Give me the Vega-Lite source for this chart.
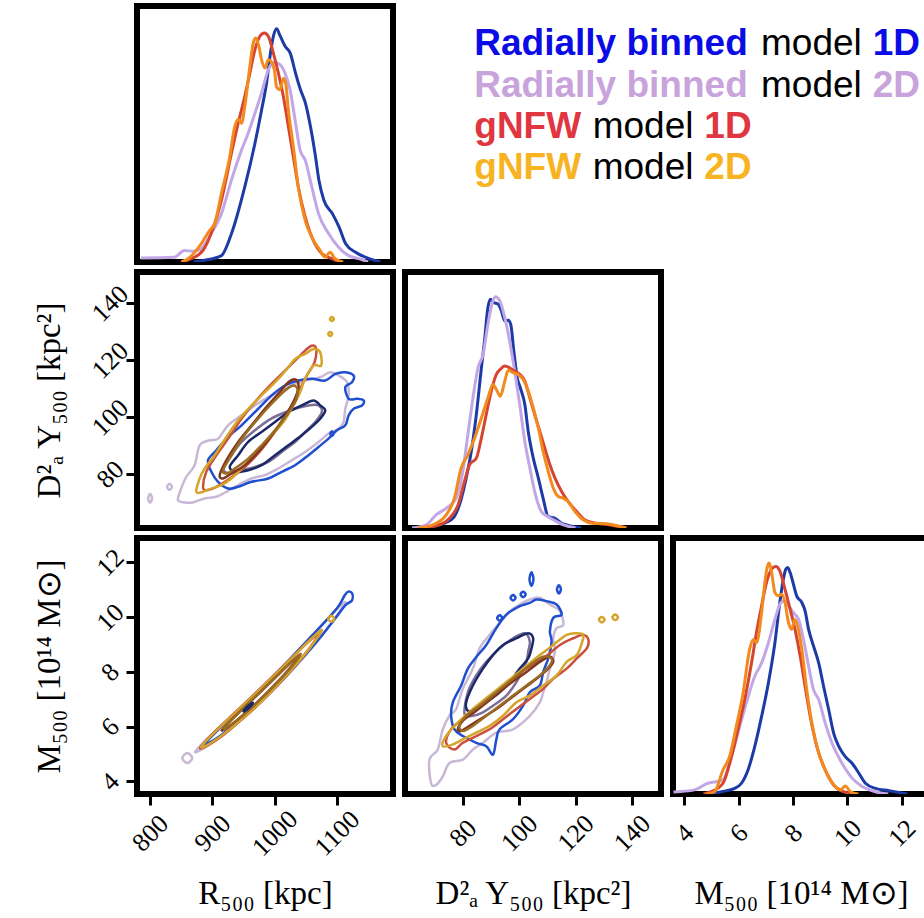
{
"$schema":"https://vega.github.io/schema/vega-lite/v6.json",
"background":"white",
"padding":{"left":29,"top":3,"right":0,"bottom":0},
"columns":3,
"spacing":{"row":10,"column":12},
"bounds":"flush",
"resolve":{"scale":{"color":"independent","x":"independent","y":"independent"}},
"concat":[
{"width":256,"height":256,"data":{"name":"hR"},
 "mark":{"type":"line","strokeWidth":3,"interpolate":"monotone","clip":true},
 "encoding":{
  "x":{"field":"x","type":"quantitative","scale":{"domain":[779,1190],"nice":false,"zero":false},"axis":null},
  "y":{"field":"d","type":"quantitative","scale":{"domain":[0,1],"nice":false},"axis":null},
  "color":{"field":"m","type":"nominal","scale":{"domain":["RB1D","RB2D","G1D","G2D"],"range":["#1c3ba6","#c3a6e6","#d6452f","#f28a1e"]},"legend":null}}},
{"width":256,"height":256,"view":{"stroke":null},"data":{"name":"leg"},
 "encoding":{
  "x":{"field":"px","type":"quantitative","scale":{"domain":[0,256],"nice":false,"zero":false},"axis":null},
  "y":{"field":"py","type":"quantitative","scale":{"domain":[256,0],"nice":false,"zero":false},"axis":null},
  "text":{"field":"t"},
  "color":{"field":"c","type":"nominal","scale":{"domain":["blue","lav","red","orange","black"],"range":["#0b0be6","#c8a3dc","#e0363f","#f8b322","#000000"]},"legend":null}},
 "layer":[
  {"transform":[{"filter":"datum.w=='b'"}],"mark":{"type":"text","align":"left","baseline":"alphabetic","font":"Liberation Sans","fontSize":37,"fontWeight":"bold"}},
  {"transform":[{"filter":"datum.w=='n'"}],"mark":{"type":"text","align":"left","baseline":"alphabetic","font":"Liberation Sans","fontSize":37}}]},
{"width":256,"height":256,"view":{"stroke":null},"data":{"values":[{"t":""}]},"mark":{"type":"text"},"encoding":{"text":{"field":"t"}}},
{"width":256,"height":256,"data":{"name":"cRD"},
 "mark":{"type":"line","strokeWidth":2.5,"interpolate":"cardinal-closed","clip":true},
 "encoding":{
  "x":{"field":"x","type":"quantitative","scale":{"domain":[779,1190],"nice":false,"zero":false},"axis":null},
  "y":{"field":"y","type":"quantitative","scale":{"domain":[61.1,151],"nice":false,"zero":false},"axis":{"values":[80,100,120,140],"format":"d","title":"D²ₐ Y₅₀₀ [kpc²]","titleX":-88,"titleBaseline":"middle","labelPadding":16}},
  "color":{"field":"k","type":"nominal","scale":{"domain":["l1","b1","l2","b2","r1","g1","r2","g2"],"range":["#c8b8d6","#1f4fcf","#7d6e98","#1b2868","#c9503d","#d4a52a","#82361f","#9a6b22"]},"legend":null},
  "detail":{"field":"id"},
  "order":{"field":"i"}}},
{"width":256,"height":256,"data":{"name":"hD"},
 "mark":{"type":"line","strokeWidth":3,"interpolate":"monotone","clip":true},
 "encoding":{
  "x":{"field":"x","type":"quantitative","scale":{"domain":[59.5,150.3],"nice":false,"zero":false},"axis":null},
  "y":{"field":"d","type":"quantitative","scale":{"domain":[0,1],"nice":false},"axis":null},
  "color":{"field":"m","type":"nominal","scale":{"domain":["RB1D","RB2D","G1D","G2D"],"range":["#1c3ba6","#c3a6e6","#d6452f","#f28a1e"]},"legend":null}}},
{"width":256,"height":256,"view":{"stroke":null},"data":{"values":[{"t":""}]},"mark":{"type":"text"},"encoding":{"text":{"field":"t"}}},
{"width":256,"height":256,"data":{"name":"cRM"},
 "mark":{"type":"line","strokeWidth":2.5,"interpolate":"cardinal-closed","clip":true},
 "encoding":{
  "x":{"field":"x","type":"quantitative","scale":{"domain":[779,1190],"nice":false,"zero":false},"axis":{"values":[800,900,1000,1100],"format":"d","title":"R₅₀₀ [kpc]","titleY":99,"titleBaseline":"middle","labelPadding":28}},
  "y":{"field":"y","type":"quantitative","scale":{"domain":[3.54,12.89],"nice":false,"zero":false},"axis":{"values":[4,6,8,10,12],"format":"d","title":"M₅₀₀ [10¹⁴ M⊙]","titleX":-88,"titleBaseline":"middle","labelPadding":16}},
  "color":{"field":"k","type":"nominal","scale":{"domain":["l1","b1","l2","b2","r1","g1","r2","g2"],"range":["#c8b8d6","#1f4fcf","#7d6e98","#1b2868","#c9503d","#d4a52a","#82361f","#9a6b22"]},"legend":null},
  "detail":{"field":"id"},
  "order":{"field":"i"}}},
{"width":256,"height":256,"data":{"name":"cDM"},
 "mark":{"type":"line","strokeWidth":2.5,"interpolate":"cardinal-closed","clip":true},
 "encoding":{
  "x":{"field":"x","type":"quantitative","scale":{"domain":[59.5,150.3],"nice":false,"zero":false},"axis":{"values":[80,100,120,140],"format":"d","title":"D²ₐ Y₅₀₀ [kpc²]","titleY":99,"titleBaseline":"middle","labelPadding":28}},
  "y":{"field":"y","type":"quantitative","scale":{"domain":[3.54,12.89],"nice":false,"zero":false},"axis":null},
  "color":{"field":"k","type":"nominal","scale":{"domain":["l1","b1","l2","b2","r1","g1","r2","g2"],"range":["#c8b8d6","#1f4fcf","#7d6e98","#1b2868","#c9503d","#d4a52a","#82361f","#9a6b22"]},"legend":null},
  "detail":{"field":"id"},
  "order":{"field":"i"}}},
{"width":256,"height":256,"data":{"name":"hM"},
 "mark":{"type":"line","strokeWidth":3,"interpolate":"monotone","clip":true},
 "encoding":{
  "x":{"field":"x","type":"quantitative","scale":{"domain":[3.58,13.0],"nice":false,"zero":false},"axis":{"values":[4,6,8,10,12],"format":"d","title":"M₅₀₀ [10¹⁴ M⊙]","titleY":99,"titleBaseline":"middle","labelPadding":28}},
  "y":{"field":"d","type":"quantitative","scale":{"domain":[0,1],"nice":false},"axis":null},
  "color":{"field":"m","type":"nominal","scale":{"domain":["RB1D","RB2D","G1D","G2D"],"range":["#1c3ba6","#c3a6e6","#d6452f","#f28a1e"]},"legend":null}}}
],
"datasets":{
"leg":[
{"t":"Radially binned","px":69.3,"py":49,"c":"blue","w":"b"},
{"t":"model","px":356,"py":49,"c":"black","w":"n"},
{"t":"1D","px":467.7,"py":49,"c":"blue","w":"b"},
{"t":"Radially binned","px":69.3,"py":90.5,"c":"lav","w":"b"},
{"t":"model","px":356,"py":90.5,"c":"black","w":"n"},
{"t":"2D","px":467.7,"py":90.5,"c":"lav","w":"b"},
{"t":"gNFW","px":69.3,"py":132,"c":"red","w":"b"},
{"t":"model","px":187.7,"py":132,"c":"black","w":"n"},
{"t":"1D","px":299.3,"py":132,"c":"red","w":"b"},
{"t":"gNFW","px":69.3,"py":173,"c":"orange","w":"b"},
{"t":"model","px":187.7,"py":173,"c":"black","w":"n"},
{"t":"2D","px":299.3,"py":173,"c":"orange","w":"b"}],
"hR":[
{"m":"RB1D","x":870,"d":0.0},{"m":"RB1D","x":885,"d":0.006},{"m":"RB1D","x":914.5,"d":0.025},{"m":"RB1D","x":930.6,"d":0.11},{"m":"RB1D","x":952,"d":0.293},{"m":"RB1D","x":968.3,"d":0.463},{"m":"RB1D","x":979,"d":0.594},{"m":"RB1D","x":987,"d":0.699},{"m":"RB1D","x":992.5,"d":0.803},{"m":"RB1D","x":998,"d":0.882},{"m":"RB1D","x":1003,"d":0.911},{"m":"RB1D","x":1009,"d":0.882},{"m":"RB1D","x":1017,"d":0.842},{"m":"RB1D","x":1025,"d":0.816},{"m":"RB1D","x":1033.5,"d":0.738},{"m":"RB1D","x":1041.5,"d":0.673},{"m":"RB1D","x":1049.5,"d":0.62},{"m":"RB1D","x":1057.5,"d":0.529},{"m":"RB1D","x":1065.6,"d":0.411},{"m":"RB1D","x":1071,"d":0.32},{"m":"RB1D","x":1079,"d":0.241},{"m":"RB1D","x":1092.7,"d":0.189},{"m":"RB1D","x":1103.5,"d":0.136},{"m":"RB1D","x":1114,"d":0.071},{"m":"RB1D","x":1130,"d":0.038},{"m":"RB1D","x":1151.6,"d":0.013},{"m":"RB1D","x":1170,"d":0.0},
{"m":"RB2D","x":785.5,"d":0.016},{"m":"RB2D","x":839,"d":0.019},{"m":"RB2D","x":855,"d":0.045},{"m":"RB2D","x":869,"d":0.042},{"m":"RB2D","x":882,"d":0.052},{"m":"RB2D","x":898,"d":0.111},{"m":"RB2D","x":914.5,"d":0.189},{"m":"RB2D","x":930.6,"d":0.32},{"m":"RB2D","x":946.8,"d":0.437},{"m":"RB2D","x":957.5,"d":0.503},{"m":"RB2D","x":968.3,"d":0.581},{"m":"RB2D","x":979,"d":0.66},{"m":"RB2D","x":989.8,"d":0.751},{"m":"RB2D","x":1000.5,"d":0.78},{"m":"RB2D","x":1008.6,"d":0.771},{"m":"RB2D","x":1016.6,"d":0.738},{"m":"RB2D","x":1024.7,"d":0.673},{"m":"RB2D","x":1032.8,"d":0.555},{"m":"RB2D","x":1040.9,"d":0.437},{"m":"RB2D","x":1049,"d":0.398},{"m":"RB2D","x":1059.7,"d":0.293},{"m":"RB2D","x":1070.4,"d":0.189},{"m":"RB2D","x":1086.6,"d":0.111},{"m":"RB2D","x":1102.7,"d":0.058},{"m":"RB2D","x":1118.8,"d":0.025},{"m":"RB2D","x":1135,"d":0.013},{"m":"RB2D","x":1150,"d":0.0},
{"m":"G1D","x":850,"d":0.0},{"m":"G1D","x":866,"d":0.013},{"m":"G1D","x":885,"d":0.045},{"m":"G1D","x":898,"d":0.111},{"m":"G1D","x":914.5,"d":0.241},{"m":"G1D","x":930.6,"d":0.424},{"m":"G1D","x":941.4,"d":0.542},{"m":"G1D","x":952,"d":0.646},{"m":"G1D","x":960.2,"d":0.738},{"m":"G1D","x":968.3,"d":0.829},{"m":"G1D","x":976.3,"d":0.882},{"m":"G1D","x":983.4,"d":0.895},{"m":"G1D","x":989.8,"d":0.882},{"m":"G1D","x":997.9,"d":0.816},{"m":"G1D","x":1006,"d":0.738},{"m":"G1D","x":1014,"d":0.646},{"m":"G1D","x":1022,"d":0.529},{"m":"G1D","x":1030,"d":0.411},{"m":"G1D","x":1038,"d":0.293},{"m":"G1D","x":1049,"d":0.176},{"m":"G1D","x":1062,"d":0.084},{"m":"G1D","x":1076,"d":0.032},{"m":"G1D","x":1092,"d":0.013},{"m":"G1D","x":1105,"d":0.0},
{"m":"G2D","x":850,"d":0.0},{"m":"G2D","x":861,"d":0.013},{"m":"G2D","x":882,"d":0.071},{"m":"G2D","x":895.6,"d":0.124},{"m":"G2D","x":903.7,"d":0.15},{"m":"G2D","x":914.5,"d":0.267},{"m":"G2D","x":927.9,"d":0.411},{"m":"G2D","x":936,"d":0.529},{"m":"G2D","x":941.4,"d":0.558},{"m":"G2D","x":946.8,"d":0.542},{"m":"G2D","x":952,"d":0.607},{"m":"G2D","x":960.2,"d":0.764},{"m":"G2D","x":965.6,"d":0.856},{"m":"G2D","x":969.8,"d":0.875},{"m":"G2D","x":974.7,"d":0.842},{"m":"G2D","x":979,"d":0.79},{"m":"G2D","x":984.4,"d":0.758},{"m":"G2D","x":989.8,"d":0.79},{"m":"G2D","x":994,"d":0.784},{"m":"G2D","x":999.5,"d":0.751},{"m":"G2D","x":1003,"d":0.685},{"m":"G2D","x":1008.6,"d":0.673},{"m":"G2D","x":1014,"d":0.718},{"m":"G2D","x":1017.7,"d":0.699},{"m":"G2D","x":1022,"d":0.594},{"m":"G2D","x":1030,"d":0.45},{"m":"G2D","x":1038,"d":0.293},{"m":"G2D","x":1049,"d":0.163},{"m":"G2D","x":1059.7,"d":0.097},{"m":"G2D","x":1073,"d":0.045},{"m":"G2D","x":1081,"d":0.019},{"m":"G2D","x":1089,"d":0.038},{"m":"G2D","x":1097,"d":0.013},{"m":"G2D","x":1110,"d":0.0}],
"hD":[
{"m":"RB1D","x":65,"d":0.0},{"m":"RB1D","x":71.7,"d":0.012},{"m":"RB1D","x":76.5,"d":0.038},{"m":"RB1D","x":78.8,"d":0.09},{"m":"RB1D","x":81.2,"d":0.195},{"m":"RB1D","x":83,"d":0.299},{"m":"RB1D","x":84.8,"d":0.443},{"m":"RB1D","x":86.6,"d":0.626},{"m":"RB1D","x":87.7,"d":0.731},{"m":"RB1D","x":88.9,"d":0.861},{"m":"RB1D","x":89.8,"d":0.894},{"m":"RB1D","x":90.9,"d":0.881},{"m":"RB1D","x":92.5,"d":0.875},{"m":"RB1D","x":93.7,"d":0.848},{"m":"RB1D","x":94.9,"d":0.809},{"m":"RB1D","x":96.1,"d":0.812},{"m":"RB1D","x":97,"d":0.796},{"m":"RB1D","x":98.1,"d":0.691},{"m":"RB1D","x":99.3,"d":0.587},{"m":"RB1D","x":100.4,"d":0.548},{"m":"RB1D","x":102,"d":0.482},{"m":"RB1D","x":103.2,"d":0.378},{"m":"RB1D","x":105,"d":0.273},{"m":"RB1D","x":106.8,"d":0.195},{"m":"RB1D","x":108.5,"d":0.116},{"m":"RB1D","x":110.3,"d":0.044},{"m":"RB1D","x":112.7,"d":0.038},{"m":"RB1D","x":115.1,"d":0.018},{"m":"RB1D","x":116.8,"d":0.012},{"m":"RB1D","x":122,"d":0.0},
{"m":"RB2D","x":62,"d":0.0},{"m":"RB2D","x":67,"d":0.012},{"m":"RB2D","x":70.5,"d":0.051},{"m":"RB2D","x":74.1,"d":0.077},{"m":"RB2D","x":77.6,"d":0.116},{"m":"RB2D","x":80,"d":0.221},{"m":"RB2D","x":81.8,"d":0.365},{"m":"RB2D","x":83.6,"d":0.508},{"m":"RB2D","x":85.4,"d":0.626},{"m":"RB2D","x":87.2,"d":0.678},{"m":"RB2D","x":88.9,"d":0.796},{"m":"RB2D","x":90.7,"d":0.888},{"m":"RB2D","x":91.6,"d":0.903},{"m":"RB2D","x":93.1,"d":0.888},{"m":"RB2D","x":94.9,"d":0.822},{"m":"RB2D","x":96.6,"d":0.731},{"m":"RB2D","x":98.4,"d":0.613},{"m":"RB2D","x":100.2,"d":0.482},{"m":"RB2D","x":102,"d":0.338},{"m":"RB2D","x":103.8,"d":0.234},{"m":"RB2D","x":105.5,"d":0.142},{"m":"RB2D","x":107.9,"d":0.064},{"m":"RB2D","x":110.3,"d":0.044},{"m":"RB2D","x":113.3,"d":0.025},{"m":"RB2D","x":115.7,"d":0.012},{"m":"RB2D","x":120,"d":0.0},
{"m":"G1D","x":65,"d":0.0},{"m":"G1D","x":71.7,"d":0.012},{"m":"G1D","x":75.3,"d":0.038},{"m":"G1D","x":78.3,"d":0.09},{"m":"G1D","x":80.6,"d":0.182},{"m":"G1D","x":82.4,"d":0.247},{"m":"G1D","x":84.8,"d":0.273},{"m":"G1D","x":86.6,"d":0.352},{"m":"G1D","x":88.3,"d":0.443},{"m":"G1D","x":90.1,"d":0.535},{"m":"G1D","x":91.9,"d":0.6},{"m":"G1D","x":93.7,"d":0.624},{"m":"G1D","x":94.9,"d":0.633},{"m":"G1D","x":96.6,"d":0.626},{"m":"G1D","x":98.4,"d":0.613},{"m":"G1D","x":100.2,"d":0.6},{"m":"G1D","x":102,"d":0.574},{"m":"G1D","x":103.8,"d":0.508},{"m":"G1D","x":105.5,"d":0.443},{"m":"G1D","x":107.3,"d":0.378},{"m":"G1D","x":109.1,"d":0.312},{"m":"G1D","x":110.9,"d":0.247},{"m":"G1D","x":112.7,"d":0.195},{"m":"G1D","x":115.1,"d":0.142},{"m":"G1D","x":117.4,"d":0.103},{"m":"G1D","x":120.4,"d":0.064},{"m":"G1D","x":123.4,"d":0.031},{"m":"G1D","x":127.5,"d":0.018},{"m":"G1D","x":132.3,"d":0.012},{"m":"G1D","x":138,"d":0.0},
{"m":"G2D","x":64,"d":0.0},{"m":"G2D","x":69.3,"d":0.012},{"m":"G2D","x":74.1,"d":0.051},{"m":"G2D","x":77,"d":0.116},{"m":"G2D","x":79.4,"d":0.234},{"m":"G2D","x":81.8,"d":0.286},{"m":"G2D","x":84.2,"d":0.352},{"m":"G2D","x":86.6,"d":0.43},{"m":"G2D","x":88.9,"d":0.508},{"m":"G2D","x":90.7,"d":0.561},{"m":"G2D","x":91.9,"d":0.541},{"m":"G2D","x":93.3,"d":0.515},{"m":"G2D","x":94.9,"d":0.574},{"m":"G2D","x":96.1,"d":0.616},{"m":"G2D","x":97.8,"d":0.607},{"m":"G2D","x":99.6,"d":0.6},{"m":"G2D","x":101.4,"d":0.58},{"m":"G2D","x":103.2,"d":0.535},{"m":"G2D","x":105,"d":0.469},{"m":"G2D","x":106.8,"d":0.391},{"m":"G2D","x":108.5,"d":0.299},{"m":"G2D","x":110.3,"d":0.221},{"m":"G2D","x":112.1,"d":0.156},{"m":"G2D","x":113.9,"d":0.123},{"m":"G2D","x":115.7,"d":0.116},{"m":"G2D","x":117.4,"d":0.103},{"m":"G2D","x":119.8,"d":0.064},{"m":"G2D","x":122.8,"d":0.031},{"m":"G2D","x":126.3,"d":0.018},{"m":"G2D","x":129.9,"d":0.018},{"m":"G2D","x":133.5,"d":0.012},{"m":"G2D","x":138,"d":0.0}],
"hM":[
{"m":"RB1D","x":5,"d":0.0},{"m":"RB1D","x":5.36,"d":0.009},{"m":"RB1D","x":5.85,"d":0.022},{"m":"RB1D","x":6.1,"d":0.042},{"m":"RB1D","x":6.34,"d":0.094},{"m":"RB1D","x":6.59,"d":0.186},{"m":"RB1D","x":6.84,"d":0.303},{"m":"RB1D","x":7.09,"d":0.434},{"m":"RB1D","x":7.33,"d":0.591},{"m":"RB1D","x":7.51,"d":0.748},{"m":"RB1D","x":7.64,"d":0.839},{"m":"RB1D","x":7.73,"d":0.878},{"m":"RB1D","x":7.8,"d":0.885},{"m":"RB1D","x":7.89,"d":0.865},{"m":"RB1D","x":8.01,"d":0.82},{"m":"RB1D","x":8.13,"d":0.774},{"m":"RB1D","x":8.32,"d":0.748},{"m":"RB1D","x":8.44,"d":0.715},{"m":"RB1D","x":8.57,"d":0.643},{"m":"RB1D","x":8.75,"d":0.578},{"m":"RB1D","x":8.94,"d":0.512},{"m":"RB1D","x":9.12,"d":0.421},{"m":"RB1D","x":9.31,"d":0.329},{"m":"RB1D","x":9.49,"d":0.238},{"m":"RB1D","x":9.68,"d":0.186},{"m":"RB1D","x":9.92,"d":0.146},{"m":"RB1D","x":10.17,"d":0.12},{"m":"RB1D","x":10.42,"d":0.081},{"m":"RB1D","x":10.66,"d":0.042},{"m":"RB1D","x":11.03,"d":0.022},{"m":"RB1D","x":11.53,"d":0.013},{"m":"RB1D","x":12.2,"d":0.0},
{"m":"RB2D","x":3.6,"d":0.008},{"m":"RB2D","x":3.75,"d":0.009},{"m":"RB2D","x":4.37,"d":0.016},{"m":"RB2D","x":4.86,"d":0.042},{"m":"RB2D","x":5.17,"d":0.048},{"m":"RB2D","x":5.42,"d":0.055},{"m":"RB2D","x":5.66,"d":0.12},{"m":"RB2D","x":5.97,"d":0.238},{"m":"RB2D","x":6.28,"d":0.356},{"m":"RB2D","x":6.59,"d":0.46},{"m":"RB2D","x":6.84,"d":0.512},{"m":"RB2D","x":7.09,"d":0.591},{"m":"RB2D","x":7.33,"d":0.682},{"m":"RB2D","x":7.55,"d":0.748},{"m":"RB2D","x":7.68,"d":0.754},{"m":"RB2D","x":7.83,"d":0.735},{"m":"RB2D","x":8.01,"d":0.708},{"m":"RB2D","x":8.2,"d":0.682},{"m":"RB2D","x":8.38,"d":0.604},{"m":"RB2D","x":8.57,"d":0.499},{"m":"RB2D","x":8.75,"d":0.408},{"m":"RB2D","x":8.94,"d":0.369},{"m":"RB2D","x":9.18,"d":0.277},{"m":"RB2D","x":9.43,"d":0.199},{"m":"RB2D","x":9.8,"d":0.12},{"m":"RB2D","x":10.17,"d":0.062},{"m":"RB2D","x":10.54,"d":0.029},{"m":"RB2D","x":11.03,"d":0.009},{"m":"RB2D","x":11.5,"d":0.0},
{"m":"G1D","x":4.7,"d":0.0},{"m":"G1D","x":4.99,"d":0.009},{"m":"G1D","x":5.42,"d":0.042},{"m":"G1D","x":5.73,"d":0.146},{"m":"G1D","x":5.97,"d":0.251},{"m":"G1D","x":6.22,"d":0.369},{"m":"G1D","x":6.47,"d":0.512},{"m":"G1D","x":6.65,"d":0.63},{"m":"G1D","x":6.84,"d":0.735},{"m":"G1D","x":7.02,"d":0.826},{"m":"G1D","x":7.21,"d":0.878},{"m":"G1D","x":7.36,"d":0.889},{"m":"G1D","x":7.51,"d":0.872},{"m":"G1D","x":7.7,"d":0.8},{"m":"G1D","x":7.89,"d":0.722},{"m":"G1D","x":8.07,"d":0.643},{"m":"G1D","x":8.26,"d":0.539},{"m":"G1D","x":8.44,"d":0.421},{"m":"G1D","x":8.63,"d":0.303},{"m":"G1D","x":8.87,"d":0.186},{"m":"G1D","x":9.18,"d":0.094},{"m":"G1D","x":9.49,"d":0.035},{"m":"G1D","x":9.86,"d":0.009},{"m":"G1D","x":10.2,"d":0.0},
{"m":"G2D","x":4.8,"d":0.0},{"m":"G2D","x":5.11,"d":0.009},{"m":"G2D","x":5.42,"d":0.094},{"m":"G2D","x":5.66,"d":0.146},{"m":"G2D","x":5.91,"d":0.264},{"m":"G2D","x":6.16,"d":0.395},{"m":"G2D","x":6.4,"d":0.565},{"m":"G2D","x":6.53,"d":0.604},{"m":"G2D","x":6.65,"d":0.591},{"m":"G2D","x":6.84,"d":0.708},{"m":"G2D","x":6.96,"d":0.826},{"m":"G2D","x":7.06,"d":0.891},{"m":"G2D","x":7.12,"d":0.902},{"m":"G2D","x":7.21,"d":0.865},{"m":"G2D","x":7.33,"d":0.787},{"m":"G2D","x":7.46,"d":0.774},{"m":"G2D","x":7.58,"d":0.78},{"m":"G2D","x":7.7,"d":0.748},{"m":"G2D","x":7.83,"d":0.669},{"m":"G2D","x":7.95,"d":0.643},{"m":"G2D","x":8.05,"d":0.682},{"m":"G2D","x":8.17,"d":0.656},{"m":"G2D","x":8.32,"d":0.565},{"m":"G2D","x":8.5,"d":0.408},{"m":"G2D","x":8.69,"d":0.277},{"m":"G2D","x":8.94,"d":0.16},{"m":"G2D","x":9.24,"d":0.081},{"m":"G2D","x":9.55,"d":0.029},{"m":"G2D","x":9.74,"d":0.016},{"m":"G2D","x":9.92,"d":0.031},{"m":"G2D","x":10.11,"d":0.009},{"m":"G2D","x":10.4,"d":0.0}],
"cRD":[
{"k":"l1","id":"l1","i":0,"x":844.6,"y":70.91},{"k":"l1","id":"l1","i":1,"x":850.0,"y":74.99},{"k":"l1","id":"l1","i":2,"x":858.1,"y":79.07},{"k":"l1","id":"l1","i":3,"x":871.5,"y":83.15},{"k":"l1","id":"l1","i":4,"x":879.6,"y":90.15},{"k":"l1","id":"l1","i":5,"x":895.7,"y":91.9},{"k":"l1","id":"l1","i":6,"x":909.1,"y":92.48},{"k":"l1","id":"l1","i":7,"x":925.3,"y":97.15},{"k":"l1","id":"l1","i":8,"x":946.8,"y":100.65},{"k":"l1","id":"l1","i":9,"x":968.3,"y":104.15},{"k":"l1","id":"l1","i":10,"x":995.1,"y":107.64},{"k":"l1","id":"l1","i":11,"x":1022.0,"y":110.56},{"k":"l1","id":"l1","i":12,"x":1048.9,"y":112.89},{"k":"l1","id":"l1","i":13,"x":1073.1,"y":114.06},{"k":"l1","id":"l1","i":14,"x":1089.2,"y":115.81},{"k":"l1","id":"l1","i":15,"x":1102.7,"y":114.64},{"k":"l1","id":"l1","i":16,"x":1116.1,"y":112.31},{"k":"l1","id":"l1","i":17,"x":1118.8,"y":107.64},{"k":"l1","id":"l1","i":18,"x":1113.4,"y":102.98},{"k":"l1","id":"l1","i":19,"x":1110.7,"y":98.31},{"k":"l1","id":"l1","i":20,"x":1102.7,"y":95.98},{"k":"l1","id":"l1","i":21,"x":1086.5,"y":94.23},{"k":"l1","id":"l1","i":22,"x":1070.4,"y":91.32},{"k":"l1","id":"l1","i":23,"x":1048.9,"y":87.82},{"k":"l1","id":"l1","i":24,"x":1027.4,"y":84.9},{"k":"l1","id":"l1","i":25,"x":1005.9,"y":81.99},{"k":"l1","id":"l1","i":26,"x":984.4,"y":79.65},{"k":"l1","id":"l1","i":27,"x":962.9,"y":78.49},{"k":"l1","id":"l1","i":28,"x":941.4,"y":76.16},{"k":"l1","id":"l1","i":29,"x":922.6,"y":73.82},{"k":"l1","id":"l1","i":30,"x":906.4,"y":72.07},{"k":"l1","id":"l1","i":31,"x":887.6,"y":71.49},{"k":"l1","id":"l1","i":32,"x":868.8,"y":70.09},{"k":"l1","id":"l1","i":33,"x":855.4,"y":70.09},
{"k":"l1","id":"l1a","i":0,"x":796.8,"y":71.49},{"k":"l1","id":"l1a","i":1,"x":800,"y":73.0},{"k":"l1","id":"l1a","i":2,"x":803.2,"y":71.49},{"k":"l1","id":"l1a","i":3,"x":800,"y":70.0},
{"k":"l1","id":"l1b","i":0,"x":827.2,"y":75.57},{"k":"l1","id":"l1b","i":1,"x":831.2,"y":76.6},{"k":"l1","id":"l1b","i":2,"x":835.2,"y":75.57},{"k":"l1","id":"l1b","i":3,"x":831.2,"y":74.5},
{"k":"b1","id":"b1","i":0,"x":893.0,"y":84.9},{"k":"b1","id":"b1","i":1,"x":906.4,"y":88.4},{"k":"b1","id":"b1","i":2,"x":925.3,"y":93.07},{"k":"b1","id":"b1","i":3,"x":946.8,"y":97.15},{"k":"b1","id":"b1","i":4,"x":973.6,"y":102.98},{"k":"b1","id":"b1","i":5,"x":995.1,"y":107.64},{"k":"b1","id":"b1","i":6,"x":1016.6,"y":111.14},{"k":"b1","id":"b1","i":7,"x":1038.2,"y":112.89},{"k":"b1","id":"b1","i":8,"x":1059.6,"y":113.48},{"k":"b1","id":"b1","i":9,"x":1081.2,"y":112.89},{"k":"b1","id":"b1","i":10,"x":1097.3,"y":115.23},{"k":"b1","id":"b1","i":11,"x":1113.4,"y":115.81},{"k":"b1","id":"b1","i":12,"x":1126.8,"y":114.64},{"k":"b1","id":"b1","i":13,"x":1124.2,"y":112.31},{"k":"b1","id":"b1","i":14,"x":1113.4,"y":110.56},{"k":"b1","id":"b1","i":15,"x":1118.8,"y":106.48},{"k":"b1","id":"b1","i":16,"x":1132.2,"y":106.48},{"k":"b1","id":"b1","i":17,"x":1143.0,"y":105.89},{"k":"b1","id":"b1","i":18,"x":1140.3,"y":104.15},{"k":"b1","id":"b1","i":19,"x":1126.8,"y":102.98},{"k":"b1","id":"b1","i":20,"x":1118.8,"y":100.65},{"k":"b1","id":"b1","i":21,"x":1113.4,"y":97.15},{"k":"b1","id":"b1","i":22,"x":1100.0,"y":95.4},{"k":"b1","id":"b1","i":23,"x":1086.5,"y":92.48},{"k":"b1","id":"b1","i":24,"x":1070.4,"y":89.57},{"k":"b1","id":"b1","i":25,"x":1054.3,"y":86.65},{"k":"b1","id":"b1","i":26,"x":1032.8,"y":83.15},{"k":"b1","id":"b1","i":27,"x":1011.3,"y":80.82},{"k":"b1","id":"b1","i":28,"x":989.8,"y":78.49},{"k":"b1","id":"b1","i":29,"x":962.9,"y":77.32},{"k":"b1","id":"b1","i":30,"x":941.4,"y":75.57},{"k":"b1","id":"b1","i":31,"x":925.3,"y":74.99},{"k":"b1","id":"b1","i":32,"x":909.1,"y":77.32},{"k":"b1","id":"b1","i":33,"x":898.4,"y":80.82},
{"k":"b1","id":"b1a","i":0,"x":1089.4,"y":94.23},{"k":"b1","id":"b1a","i":1,"x":1091.9,"y":95.0},{"k":"b1","id":"b1a","i":2,"x":1094.4,"y":94.23},{"k":"b1","id":"b1a","i":3,"x":1091.9,"y":93.4},
{"k":"l2","id":"l2","i":0,"x":917.2,"y":81.99},{"k":"l2","id":"l2","i":1,"x":930.6,"y":86.65},{"k":"l2","id":"l2","i":2,"x":946.8,"y":91.32},{"k":"l2","id":"l2","i":3,"x":968.3,"y":95.4},{"k":"l2","id":"l2","i":4,"x":989.8,"y":98.9},{"k":"l2","id":"l2","i":5,"x":1011.3,"y":101.23},{"k":"l2","id":"l2","i":6,"x":1032.8,"y":102.98},{"k":"l2","id":"l2","i":7,"x":1054.3,"y":104.15},{"k":"l2","id":"l2","i":8,"x":1070.4,"y":104.15},{"k":"l2","id":"l2","i":9,"x":1075.8,"y":101.81},{"k":"l2","id":"l2","i":10,"x":1065.0,"y":98.31},{"k":"l2","id":"l2","i":11,"x":1048.9,"y":94.82},{"k":"l2","id":"l2","i":12,"x":1032.8,"y":91.32},{"k":"l2","id":"l2","i":13,"x":1011.3,"y":87.82},{"k":"l2","id":"l2","i":14,"x":989.8,"y":84.32},{"k":"l2","id":"l2","i":15,"x":968.3,"y":82.57},{"k":"l2","id":"l2","i":16,"x":946.8,"y":81.4},{"k":"l2","id":"l2","i":17,"x":927.9,"y":80.24},
{"k":"b2","id":"b2","i":0,"x":927.9,"y":82.57},{"k":"b2","id":"b2","i":1,"x":941.4,"y":86.65},{"k":"b2","id":"b2","i":2,"x":957.5,"y":91.32},{"k":"b2","id":"b2","i":3,"x":979.0,"y":94.82},{"k":"b2","id":"b2","i":4,"x":1000.5,"y":98.31},{"k":"b2","id":"b2","i":5,"x":1022.0,"y":101.81},{"k":"b2","id":"b2","i":6,"x":1043.5,"y":104.15},{"k":"b2","id":"b2","i":7,"x":1062.3,"y":105.89},{"k":"b2","id":"b2","i":8,"x":1073.1,"y":104.15},{"k":"b2","id":"b2","i":9,"x":1081.2,"y":102.4},{"k":"b2","id":"b2","i":10,"x":1073.1,"y":99.48},{"k":"b2","id":"b2","i":11,"x":1062.3,"y":97.15},{"k":"b2","id":"b2","i":12,"x":1043.5,"y":93.65},{"k":"b2","id":"b2","i":13,"x":1022.0,"y":90.15},{"k":"b2","id":"b2","i":14,"x":1000.5,"y":86.65},{"k":"b2","id":"b2","i":15,"x":979.0,"y":83.15},{"k":"b2","id":"b2","i":16,"x":957.5,"y":81.4},{"k":"b2","id":"b2","i":17,"x":938.7,"y":80.82},
{"k":"r1","id":"r1","i":0,"x":885.0,"y":75.57},{"k":"r1","id":"r1","i":1,"x":890.3,"y":80.82},{"k":"r1","id":"r1","i":2,"x":906.4,"y":86.65},{"k":"r1","id":"r1","i":3,"x":925.3,"y":92.48},{"k":"r1","id":"r1","i":4,"x":946.8,"y":99.48},{"k":"r1","id":"r1","i":5,"x":968.3,"y":105.31},{"k":"r1","id":"r1","i":6,"x":989.8,"y":110.56},{"k":"r1","id":"r1","i":7,"x":1011.3,"y":115.23},{"k":"r1","id":"r1","i":8,"x":1032.8,"y":119.89},{"k":"r1","id":"r1","i":9,"x":1048.9,"y":123.39},{"k":"r1","id":"r1","i":10,"x":1059.6,"y":125.14},{"k":"r1","id":"r1","i":11,"x":1066.6,"y":123.97},{"k":"r1","id":"r1","i":12,"x":1064.0,"y":119.31},{"k":"r1","id":"r1","i":13,"x":1051.6,"y":114.64},{"k":"r1","id":"r1","i":14,"x":1040.8,"y":109.98},{"k":"r1","id":"r1","i":15,"x":1027.4,"y":104.15},{"k":"r1","id":"r1","i":16,"x":1011.3,"y":98.31},{"k":"r1","id":"r1","i":17,"x":992.4,"y":92.48},{"k":"r1","id":"r1","i":18,"x":971.0,"y":86.65},{"k":"r1","id":"r1","i":19,"x":949.4,"y":81.99},{"k":"r1","id":"r1","i":20,"x":927.9,"y":78.49},{"k":"r1","id":"r1","i":21,"x":906.4,"y":75.57},{"k":"r1","id":"r1","i":22,"x":890.3,"y":74.4},
{"k":"g1","id":"g1","i":0,"x":874.2,"y":73.82},{"k":"g1","id":"g1","i":1,"x":879.6,"y":78.49},{"k":"g1","id":"g1","i":2,"x":887.6,"y":81.99},{"k":"g1","id":"g1","i":3,"x":903.8,"y":86.65},{"k":"g1","id":"g1","i":4,"x":922.6,"y":93.07},{"k":"g1","id":"g1","i":5,"x":941.4,"y":98.9},{"k":"g1","id":"g1","i":6,"x":962.9,"y":104.15},{"k":"g1","id":"g1","i":7,"x":984.4,"y":108.81},{"k":"g1","id":"g1","i":8,"x":1005.9,"y":113.48},{"k":"g1","id":"g1","i":9,"x":1022.0,"y":117.56},{"k":"g1","id":"g1","i":10,"x":1032.8,"y":120.47},{"k":"g1","id":"g1","i":11,"x":1048.9,"y":122.22},{"k":"g1","id":"g1","i":12,"x":1062.3,"y":123.97},{"k":"g1","id":"g1","i":13,"x":1073.1,"y":122.81},{"k":"g1","id":"g1","i":14,"x":1074.7,"y":118.14},{"k":"g1","id":"g1","i":15,"x":1062.3,"y":118.14},{"k":"g1","id":"g1","i":16,"x":1048.9,"y":113.48},{"k":"g1","id":"g1","i":17,"x":1040.8,"y":108.81},{"k":"g1","id":"g1","i":18,"x":1030.1,"y":104.15},{"k":"g1","id":"g1","i":19,"x":1014.0,"y":98.31},{"k":"g1","id":"g1","i":20,"x":995.1,"y":93.65},{"k":"g1","id":"g1","i":21,"x":973.6,"y":88.4},{"k":"g1","id":"g1","i":22,"x":952.1,"y":83.15},{"k":"g1","id":"g1","i":23,"x":930.6,"y":78.49},{"k":"g1","id":"g1","i":24,"x":914.5,"y":76.16},{"k":"g1","id":"g1","i":25,"x":898.4,"y":74.99},{"k":"g1","id":"g1","i":26,"x":885.0,"y":73.82},
{"k":"g1","id":"g1a","i":0,"x":1088.7,"y":134.47},{"k":"g1","id":"g1a","i":1,"x":1091.9,"y":135.2},{"k":"g1","id":"g1a","i":2,"x":1095.1,"y":134.47},{"k":"g1","id":"g1a","i":3,"x":1091.9,"y":133.8},
{"k":"g1","id":"g1b","i":0,"x":1086.0,"y":129.22},{"k":"g1","id":"g1b","i":1,"x":1089.2,"y":129.95},{"k":"g1","id":"g1b","i":2,"x":1092.4,"y":129.22},{"k":"g1","id":"g1b","i":3,"x":1089.2,"y":128.5},
{"k":"r2","id":"r2","i":0,"x":911.8,"y":79.65},{"k":"r2","id":"r2","i":1,"x":922.6,"y":84.9},{"k":"r2","id":"r2","i":2,"x":941.4,"y":91.32},{"k":"r2","id":"r2","i":3,"x":962.9,"y":97.15},{"k":"r2","id":"r2","i":4,"x":984.4,"y":102.98},{"k":"r2","id":"r2","i":5,"x":1005.9,"y":108.23},{"k":"r2","id":"r2","i":6,"x":1022.0,"y":112.31},{"k":"r2","id":"r2","i":7,"x":1033.9,"y":113.24},{"k":"r2","id":"r2","i":8,"x":1038.2,"y":110.56},{"k":"r2","id":"r2","i":9,"x":1030.1,"y":105.31},{"k":"r2","id":"r2","i":10,"x":1014.0,"y":99.48},{"k":"r2","id":"r2","i":11,"x":995.1,"y":93.65},{"k":"r2","id":"r2","i":12,"x":973.6,"y":87.82},{"k":"r2","id":"r2","i":13,"x":952.1,"y":83.15},{"k":"r2","id":"r2","i":14,"x":930.6,"y":80.24},{"k":"r2","id":"r2","i":15,"x":917.2,"y":78.49},
{"k":"g2","id":"g2","i":0,"x":917.2,"y":81.4},{"k":"g2","id":"g2","i":1,"x":930.6,"y":86.65},{"k":"g2","id":"g2","i":2,"x":949.4,"y":93.07},{"k":"g2","id":"g2","i":3,"x":971.0,"y":98.9},{"k":"g2","id":"g2","i":4,"x":995.1,"y":104.73},{"k":"g2","id":"g2","i":5,"x":1016.6,"y":109.39},{"k":"g2","id":"g2","i":6,"x":1030.1,"y":111.14},{"k":"g2","id":"g2","i":7,"x":1037.1,"y":109.39},{"k":"g2","id":"g2","i":8,"x":1032.8,"y":105.31},{"k":"g2","id":"g2","i":9,"x":1019.3,"y":100.65},{"k":"g2","id":"g2","i":10,"x":1000.5,"y":95.4},{"k":"g2","id":"g2","i":11,"x":979.0,"y":90.15},{"k":"g2","id":"g2","i":12,"x":957.5,"y":85.48},{"k":"g2","id":"g2","i":13,"x":936.0,"y":81.99},{"k":"g2","id":"g2","i":14,"x":922.6,"y":80.24}],
"cRM":[
{"k":"l1","id":"l1","i":0,"x":872,"y":5.071},{"k":"l1","id":"l1","i":1,"x":896.1,"y":5.659},{"k":"l1","id":"l1","i":2,"x":932.3,"y":6.422},{"k":"l1","id":"l1","i":3,"x":992.5,"y":7.737},{"k":"l1","id":"l1","i":4,"x":1052.8,"y":9.148},{"k":"l1","id":"l1","i":5,"x":1088.9,"y":10.03},{"k":"l1","id":"l1","i":6,"x":1113,"y":10.545},{"k":"l1","id":"l1","i":7,"x":1088.9,"y":9.718},{"k":"l1","id":"l1","i":8,"x":1052.8,"y":8.698},{"k":"l1","id":"l1","i":9,"x":992.5,"y":7.217},{"k":"l1","id":"l1","i":10,"x":932.3,"y":5.972},{"k":"l1","id":"l1","i":11,"x":896.1,"y":5.347},
{"k":"l1","id":"l1a","i":0,"x":851.7,"y":4.856},{"k":"l1","id":"l1a","i":1,"x":859.7,"y":5.04},{"k":"l1","id":"l1a","i":2,"x":867.7,"y":4.856},{"k":"l1","id":"l1a","i":3,"x":859.7,"y":4.67},
{"k":"b1","id":"b1","i":0,"x":888,"y":5.355},{"k":"b1","id":"b1","i":1,"x":911.6,"y":5.938},{"k":"b1","id":"b1","i":2,"x":947,"y":6.704},{"k":"b1","id":"b1","i":3,"x":1006,"y":8.027},{"k":"b1","id":"b1","i":4,"x":1065,"y":9.447},{"k":"b1","id":"b1","i":5,"x":1100.4,"y":10.334},{"k":"b1","id":"b1","i":6,"x":1112,"y":10.78},{"k":"b1","id":"b1","i":7,"x":1118,"y":10.93},{"k":"b1","id":"b1","i":8,"x":1124.5,"y":10.86},{"k":"b1","id":"b1","i":9,"x":1124,"y":10.6},{"k":"b1","id":"b1","i":10,"x":1114,"y":10.45},{"k":"b1","id":"b1","i":11,"x":1100.4,"y":10.046},{"k":"b1","id":"b1","i":12,"x":1065,"y":9.031},{"k":"b1","id":"b1","i":13,"x":1006,"y":7.547},{"k":"b1","id":"b1","i":14,"x":947,"y":6.288},{"k":"b1","id":"b1","i":15,"x":911.6,"y":5.65},
{"k":"r1","id":"r1","i":0,"x":880,"y":5.212},{"k":"r1","id":"r1","i":1,"x":899,"y":5.713},{"k":"r1","id":"r1","i":2,"x":927.5,"y":6.328},{"k":"r1","id":"r1","i":3,"x":975,"y":7.349},{"k":"r1","id":"r1","i":4,"x":1022.5,"y":8.401},{"k":"r1","id":"r1","i":5,"x":1051,"y":9.035},{"k":"r1","id":"r1","i":6,"x":1070,"y":9.369},{"k":"r1","id":"r1","i":7,"x":1051,"y":8.723},{"k":"r1","id":"r1","i":8,"x":1022.5,"y":7.951},{"k":"r1","id":"r1","i":9,"x":975,"y":6.829},{"k":"r1","id":"r1","i":10,"x":927.5,"y":5.878},{"k":"r1","id":"r1","i":11,"x":899,"y":5.401},
{"k":"g1","id":"g1","i":0,"x":882,"y":5.248},{"k":"g1","id":"g1","i":1,"x":901.4,"y":5.745},{"k":"g1","id":"g1","i":2,"x":930.5,"y":6.37},{"k":"g1","id":"g1","i":3,"x":979,"y":7.416},{"k":"g1","id":"g1","i":4,"x":1027.5,"y":8.505},{"k":"g1","id":"g1","i":5,"x":1056.6,"y":9.165},{"k":"g1","id":"g1","i":6,"x":1076,"y":9.528},{"k":"g1","id":"g1","i":7,"x":1056.6,"y":8.877},{"k":"g1","id":"g1","i":8,"x":1027.5,"y":8.089},{"k":"g1","id":"g1","i":9,"x":979,"y":6.936},{"k":"g1","id":"g1","i":10,"x":930.5,"y":5.954},{"k":"g1","id":"g1","i":11,"x":901.4,"y":5.457},
{"k":"g1","id":"g1a","i":0,"x":1085.8,"y":9.943},{"k":"g1","id":"g1a","i":1,"x":1090.8,"y":10.053},{"k":"g1","id":"g1a","i":2,"x":1095.8,"y":9.943},{"k":"g1","id":"g1a","i":3,"x":1090.8,"y":9.833},
{"k":"r2","id":"r2","i":0,"x":915,"y":5.859},{"k":"r2","id":"r2","i":1,"x":927.5,"y":6.181},{"k":"r2","id":"r2","i":2,"x":946.3,"y":6.593},{"k":"r2","id":"r2","i":3,"x":977.5,"y":7.274},{"k":"r2","id":"r2","i":4,"x":1008.8,"y":7.963},{"k":"r2","id":"r2","i":5,"x":1027.5,"y":8.375},{"k":"r2","id":"r2","i":6,"x":1040,"y":8.603},{"k":"r2","id":"r2","i":7,"x":1027.5,"y":8.219},{"k":"r2","id":"r2","i":8,"x":1008.8,"y":7.737},{"k":"r2","id":"r2","i":9,"x":977.5,"y":7.014},{"k":"r2","id":"r2","i":10,"x":946.3,"y":6.367},{"k":"r2","id":"r2","i":11,"x":927.5,"y":6.025},
{"k":"g2","id":"g2","i":0,"x":918,"y":5.917},{"k":"g2","id":"g2","i":1,"x":930.4,"y":6.244},{"k":"g2","id":"g2","i":2,"x":949,"y":6.658},{"k":"g2","id":"g2","i":3,"x":980,"y":7.338},{"k":"g2","id":"g2","i":4,"x":1011,"y":8.024},{"k":"g2","id":"g2","i":5,"x":1029.6,"y":8.431},{"k":"g2","id":"g2","i":6,"x":1042,"y":8.653},{"k":"g2","id":"g2","i":7,"x":1029.6,"y":8.263},{"k":"g2","id":"g2","i":8,"x":1011,"y":7.782},{"k":"g2","id":"g2","i":9,"x":980,"y":7.058},{"k":"g2","id":"g2","i":10,"x":949,"y":6.416},{"k":"g2","id":"g2","i":11,"x":930.4,"y":6.076},
{"k":"b2","id":"b2","i":0,"x":950,"y":6.557},{"k":"b2","id":"b2","i":1,"x":957.5,"y":6.764},{"k":"b2","id":"b2","i":2,"x":965,"y":6.873},{"k":"b2","id":"b2","i":3,"x":957.5,"y":6.664}],
"cDM":[
{"k":"l1","id":"l1","i":0,"x":68.74,"y":3.932},{"k":"l1","id":"l1","i":1,"x":68.15,"y":4.795},{"k":"l1","id":"l1","i":2,"x":71.11,"y":5.164},{"k":"l1","id":"l1","i":3,"x":72.9,"y":5.903},{"k":"l1","id":"l1","i":4,"x":75.27,"y":6.396},{"k":"l1","id":"l1","i":5,"x":77.65,"y":6.642},{"k":"l1","id":"l1","i":6,"x":80.02,"y":7.381},{"k":"l1","id":"l1","i":7,"x":83.58,"y":8.12},{"k":"l1","id":"l1","i":8,"x":85.96,"y":8.86},{"k":"l1","id":"l1","i":9,"x":89.52,"y":9.352},{"k":"l1","id":"l1","i":10,"x":93.08,"y":9.783},{"k":"l1","id":"l1","i":11,"x":96.65,"y":10.215},{"k":"l1","id":"l1","i":12,"x":100.21,"y":10.461},{"k":"l1","id":"l1","i":13,"x":103.77,"y":10.646},{"k":"l1","id":"l1","i":14,"x":107.33,"y":10.707},{"k":"l1","id":"l1","i":15,"x":110.9,"y":10.461},{"k":"l1","id":"l1","i":16,"x":114.46,"y":10.215},{"k":"l1","id":"l1","i":17,"x":115.65,"y":9.722},{"k":"l1","id":"l1","i":18,"x":113.27,"y":9.599},{"k":"l1","id":"l1","i":19,"x":112.08,"y":9.229},{"k":"l1","id":"l1","i":20,"x":112.68,"y":8.736},{"k":"l1","id":"l1","i":21,"x":110.9,"y":8.12},{"k":"l1","id":"l1","i":22,"x":109.71,"y":7.628},{"k":"l1","id":"l1","i":23,"x":108.52,"y":7.258},{"k":"l1","id":"l1","i":24,"x":107.33,"y":6.889},{"k":"l1","id":"l1","i":25,"x":103.77,"y":6.396},{"k":"l1","id":"l1","i":26,"x":97.83,"y":5.903},{"k":"l1","id":"l1","i":27,"x":91.9,"y":5.78},{"k":"l1","id":"l1","i":28,"x":87.15,"y":5.41},{"k":"l1","id":"l1","i":29,"x":83.58,"y":5.164},{"k":"l1","id":"l1","i":30,"x":80.02,"y":4.795},{"k":"l1","id":"l1","i":31,"x":75.27,"y":4.671},{"k":"l1","id":"l1","i":32,"x":72.9,"y":4.179},{"k":"l1","id":"l1","i":33,"x":70.52,"y":3.871},
{"k":"b1","id":"b1","i":0,"x":75.86,"y":6.396},{"k":"b1","id":"b1","i":1,"x":76.46,"y":6.889},{"k":"b1","id":"b1","i":2,"x":79.43,"y":7.505},{"k":"b1","id":"b1","i":3,"x":81.8,"y":8.12},{"k":"b1","id":"b1","i":4,"x":85.36,"y":8.613},{"k":"b1","id":"b1","i":5,"x":88.33,"y":8.983},{"k":"b1","id":"b1","i":6,"x":91.9,"y":9.599},{"k":"b1","id":"b1","i":7,"x":95.46,"y":10.091},{"k":"b1","id":"b1","i":8,"x":100.21,"y":10.399},{"k":"b1","id":"b1","i":9,"x":103.77,"y":10.522},{"k":"b1","id":"b1","i":10,"x":106.15,"y":10.646},{"k":"b1","id":"b1","i":11,"x":109.71,"y":10.584},{"k":"b1","id":"b1","i":12,"x":113.27,"y":10.461},{"k":"b1","id":"b1","i":13,"x":115.05,"y":10.091},{"k":"b1","id":"b1","i":14,"x":112.08,"y":9.968},{"k":"b1","id":"b1","i":15,"x":110.9,"y":9.475},{"k":"b1","id":"b1","i":16,"x":111.49,"y":9.106},{"k":"b1","id":"b1","i":17,"x":110.3,"y":8.49},{"k":"b1","id":"b1","i":18,"x":108.52,"y":7.997},{"k":"b1","id":"b1","i":19,"x":107.33,"y":7.505},{"k":"b1","id":"b1","i":20,"x":103.77,"y":7.258},{"k":"b1","id":"b1","i":21,"x":101.4,"y":6.765},{"k":"b1","id":"b1","i":22,"x":97.83,"y":6.273},{"k":"b1","id":"b1","i":23,"x":93.08,"y":5.903},{"k":"b1","id":"b1","i":24,"x":91.9,"y":5.534},{"k":"b1","id":"b1","i":25,"x":90.71,"y":4.979},{"k":"b1","id":"b1","i":26,"x":88.33,"y":5.287},{"k":"b1","id":"b1","i":27,"x":84.77,"y":5.41},{"k":"b1","id":"b1","i":28,"x":80.02,"y":5.657},{"k":"b1","id":"b1","i":29,"x":77.05,"y":5.903},
{"k":"b1","id":"b1a","i":0,"x":92.18,"y":9.968},{"k":"b1","id":"b1a","i":1,"x":93.08,"y":10.068},{"k":"b1","id":"b1a","i":2,"x":93.98,"y":9.968},{"k":"b1","id":"b1a","i":3,"x":93.08,"y":9.868},
{"k":"b1","id":"b1b","i":0,"x":96.93,"y":10.707},{"k":"b1","id":"b1b","i":1,"x":97.83,"y":10.807},{"k":"b1","id":"b1b","i":2,"x":98.73,"y":10.707},{"k":"b1","id":"b1b","i":3,"x":97.83,"y":10.607},
{"k":"b1","id":"b1c","i":0,"x":100.5,"y":10.83},{"k":"b1","id":"b1c","i":1,"x":101.4,"y":10.93},{"k":"b1","id":"b1c","i":2,"x":102.3,"y":10.83},{"k":"b1","id":"b1c","i":3,"x":101.4,"y":10.73},
{"k":"b1","id":"b1d","i":0,"x":103.66,"y":11.385},{"k":"b1","id":"b1d","i":1,"x":104.36,"y":11.635},{"k":"b1","id":"b1d","i":2,"x":105.06,"y":11.385},{"k":"b1","id":"b1d","i":3,"x":104.36,"y":11.135},
{"k":"b1","id":"b1e","i":0,"x":113.4,"y":11.015},{"k":"b1","id":"b1e","i":1,"x":114.1,"y":11.165},{"k":"b1","id":"b1e","i":2,"x":114.8,"y":11.015},{"k":"b1","id":"b1e","i":3,"x":114.1,"y":10.865},
{"k":"l2","id":"l2","i":0,"x":80.61,"y":6.458},{"k":"l2","id":"l2","i":1,"x":81.8,"y":7.258},{"k":"l2","id":"l2","i":2,"x":84.77,"y":7.874},{"k":"l2","id":"l2","i":3,"x":88.33,"y":8.367},{"k":"l2","id":"l2","i":4,"x":93.08,"y":8.86},{"k":"l2","id":"l2","i":5,"x":97.83,"y":9.229},{"k":"l2","id":"l2","i":6,"x":101.99,"y":9.414},{"k":"l2","id":"l2","i":7,"x":103.77,"y":9.106},{"k":"l2","id":"l2","i":8,"x":103.18,"y":8.736},{"k":"l2","id":"l2","i":9,"x":102.58,"y":8.367},{"k":"l2","id":"l2","i":10,"x":100.8,"y":7.997},{"k":"l2","id":"l2","i":11,"x":99.02,"y":7.628},{"k":"l2","id":"l2","i":12,"x":95.46,"y":7.135},{"k":"l2","id":"l2","i":13,"x":90.71,"y":6.765},{"k":"l2","id":"l2","i":14,"x":87.15,"y":6.519},{"k":"l2","id":"l2","i":15,"x":83.58,"y":6.396},
{"k":"b2","id":"b2","i":0,"x":81.21,"y":6.889},{"k":"b2","id":"b2","i":1,"x":83.58,"y":7.505},{"k":"b2","id":"b2","i":2,"x":87.15,"y":8.12},{"k":"b2","id":"b2","i":3,"x":90.71,"y":8.613},{"k":"b2","id":"b2","i":4,"x":94.27,"y":8.983},{"k":"b2","id":"b2","i":5,"x":99.02,"y":9.229},{"k":"b2","id":"b2","i":6,"x":103.18,"y":9.414},{"k":"b2","id":"b2","i":7,"x":104.96,"y":9.229},{"k":"b2","id":"b2","i":8,"x":104.36,"y":8.86},{"k":"b2","id":"b2","i":9,"x":103.18,"y":8.49},{"k":"b2","id":"b2","i":10,"x":100.21,"y":8.12},{"k":"b2","id":"b2","i":11,"x":96.65,"y":7.628},{"k":"b2","id":"b2","i":12,"x":93.08,"y":7.258},{"k":"b2","id":"b2","i":13,"x":88.33,"y":6.889},{"k":"b2","id":"b2","i":14,"x":84.77,"y":6.642},{"k":"b2","id":"b2","i":15,"x":81.8,"y":6.581},
{"k":"r1","id":"r1","i":0,"x":74.08,"y":5.41},{"k":"r1","id":"r1","i":1,"x":75.86,"y":5.903},{"k":"r1","id":"r1","i":2,"x":80.02,"y":6.273},{"k":"r1","id":"r1","i":3,"x":84.77,"y":6.642},{"k":"r1","id":"r1","i":4,"x":90.71,"y":7.135},{"k":"r1","id":"r1","i":5,"x":96.65,"y":7.628},{"k":"r1","id":"r1","i":6,"x":102.58,"y":8.12},{"k":"r1","id":"r1","i":7,"x":108.52,"y":8.49},{"k":"r1","id":"r1","i":8,"x":114.46,"y":8.983},{"k":"r1","id":"r1","i":9,"x":119.21,"y":9.229},{"k":"r1","id":"r1","i":10,"x":122.77,"y":9.352},{"k":"r1","id":"r1","i":11,"x":124.55,"y":9.168},{"k":"r1","id":"r1","i":12,"x":123.96,"y":8.86},{"k":"r1","id":"r1","i":13,"x":120.4,"y":8.49},{"k":"r1","id":"r1","i":14,"x":116.83,"y":8.12},{"k":"r1","id":"r1","i":15,"x":112.08,"y":7.751},{"k":"r1","id":"r1","i":16,"x":108.52,"y":7.381},{"k":"r1","id":"r1","i":17,"x":103.77,"y":7.012},{"k":"r1","id":"r1","i":18,"x":99.02,"y":6.642},{"k":"r1","id":"r1","i":19,"x":94.27,"y":6.273},{"k":"r1","id":"r1","i":20,"x":89.52,"y":5.903},{"k":"r1","id":"r1","i":21,"x":84.77,"y":5.657},{"k":"r1","id":"r1","i":22,"x":80.02,"y":5.41},{"k":"r1","id":"r1","i":23,"x":77.05,"y":5.164},
{"k":"g1","id":"g1","i":0,"x":72.9,"y":5.287},{"k":"g1","id":"g1","i":1,"x":74.08,"y":5.657},{"k":"g1","id":"g1","i":2,"x":78.24,"y":6.15},{"k":"g1","id":"g1","i":3,"x":83.58,"y":6.642},{"k":"g1","id":"g1","i":4,"x":89.52,"y":7.135},{"k":"g1","id":"g1","i":5,"x":95.46,"y":7.628},{"k":"g1","id":"g1","i":6,"x":101.4,"y":8.12},{"k":"g1","id":"g1","i":7,"x":107.33,"y":8.613},{"k":"g1","id":"g1","i":8,"x":112.08,"y":8.983},{"k":"g1","id":"g1","i":9,"x":116.83,"y":9.352},{"k":"g1","id":"g1","i":10,"x":120.4,"y":9.414},{"k":"g1","id":"g1","i":11,"x":122.77,"y":9.352},{"k":"g1","id":"g1","i":12,"x":122.18,"y":9.044},{"k":"g1","id":"g1","i":13,"x":120.4,"y":8.613},{"k":"g1","id":"g1","i":14,"x":116.83,"y":8.367},{"k":"g1","id":"g1","i":15,"x":113.27,"y":7.874},{"k":"g1","id":"g1","i":16,"x":108.52,"y":7.505},{"k":"g1","id":"g1","i":17,"x":103.77,"y":7.135},{"k":"g1","id":"g1","i":18,"x":99.02,"y":6.889},{"k":"g1","id":"g1","i":19,"x":94.27,"y":6.396},{"k":"g1","id":"g1","i":20,"x":89.52,"y":6.027},{"k":"g1","id":"g1","i":21,"x":84.77,"y":5.78},{"k":"g1","id":"g1","i":22,"x":80.02,"y":5.534},{"k":"g1","id":"g1","i":23,"x":76.46,"y":5.349},
{"k":"g1","id":"g1a","i":0,"x":128.3,"y":9.907},{"k":"g1","id":"g1a","i":1,"x":129.3,"y":10.007},{"k":"g1","id":"g1a","i":2,"x":130.3,"y":9.907},{"k":"g1","id":"g1a","i":3,"x":129.3,"y":9.807},
{"k":"g1","id":"g1b","i":0,"x":133.05,"y":9.993},{"k":"g1","id":"g1b","i":1,"x":134.05,"y":10.093},{"k":"g1","id":"g1b","i":2,"x":135.05,"y":9.993},{"k":"g1","id":"g1b","i":3,"x":134.05,"y":9.893},
{"k":"r2","id":"r2","i":0,"x":78.24,"y":5.903},{"k":"r2","id":"r2","i":1,"x":80.02,"y":6.211},{"k":"r2","id":"r2","i":2,"x":84.77,"y":6.581},{"k":"r2","id":"r2","i":3,"x":90.71,"y":7.073},{"k":"r2","id":"r2","i":4,"x":96.65,"y":7.566},{"k":"r2","id":"r2","i":5,"x":102.58,"y":7.997},{"k":"r2","id":"r2","i":6,"x":107.33,"y":8.367},{"k":"r2","id":"r2","i":7,"x":110.9,"y":8.552},{"k":"r2","id":"r2","i":8,"x":112.08,"y":8.367},{"k":"r2","id":"r2","i":9,"x":110.3,"y":8.12},{"k":"r2","id":"r2","i":10,"x":106.15,"y":7.751},{"k":"r2","id":"r2","i":11,"x":101.4,"y":7.381},{"k":"r2","id":"r2","i":12,"x":96.65,"y":7.012},{"k":"r2","id":"r2","i":13,"x":91.9,"y":6.642},{"k":"r2","id":"r2","i":14,"x":87.15,"y":6.334},{"k":"r2","id":"r2","i":15,"x":82.4,"y":6.027},{"k":"r2","id":"r2","i":16,"x":79.43,"y":5.842},
{"k":"g2","id":"g2","i":0,"x":78.83,"y":6.027},{"k":"g2","id":"g2","i":1,"x":81.21,"y":6.396},{"k":"g2","id":"g2","i":2,"x":85.96,"y":6.765},{"k":"g2","id":"g2","i":3,"x":91.9,"y":7.258},{"k":"g2","id":"g2","i":4,"x":97.83,"y":7.751},{"k":"g2","id":"g2","i":5,"x":103.77,"y":8.244},{"k":"g2","id":"g2","i":6,"x":108.52,"y":8.552},{"k":"g2","id":"g2","i":7,"x":111.49,"y":8.49},{"k":"g2","id":"g2","i":8,"x":110.9,"y":8.244},{"k":"g2","id":"g2","i":9,"x":107.33,"y":7.874},{"k":"g2","id":"g2","i":10,"x":102.58,"y":7.505},{"k":"g2","id":"g2","i":11,"x":97.83,"y":7.135},{"k":"g2","id":"g2","i":12,"x":93.08,"y":6.765},{"k":"g2","id":"g2","i":13,"x":88.33,"y":6.396},{"k":"g2","id":"g2","i":14,"x":83.58,"y":6.027},{"k":"g2","id":"g2","i":15,"x":80.02,"y":5.842}]
},
"config":{
 "view":{"stroke":"#000000","strokeWidth":6,"fill":"white"},
 "axis":{"domain":false,"grid":false,"ticks":true,"tickColor":"#000000","tickWidth":3,"tickSize":11,"labelFont":"Liberation Serif","labelFontSize":26,"labelColor":"#000000","labelAngle":-45,"labelAlign":"center","labelBaseline":"middle","labelOverlap":false,"labelFlush":false,"labelBound":false,"titleFont":"Liberation Serif","titleFontSize":33,"titleFontWeight":"normal","titleColor":"#000000"}
}
}
